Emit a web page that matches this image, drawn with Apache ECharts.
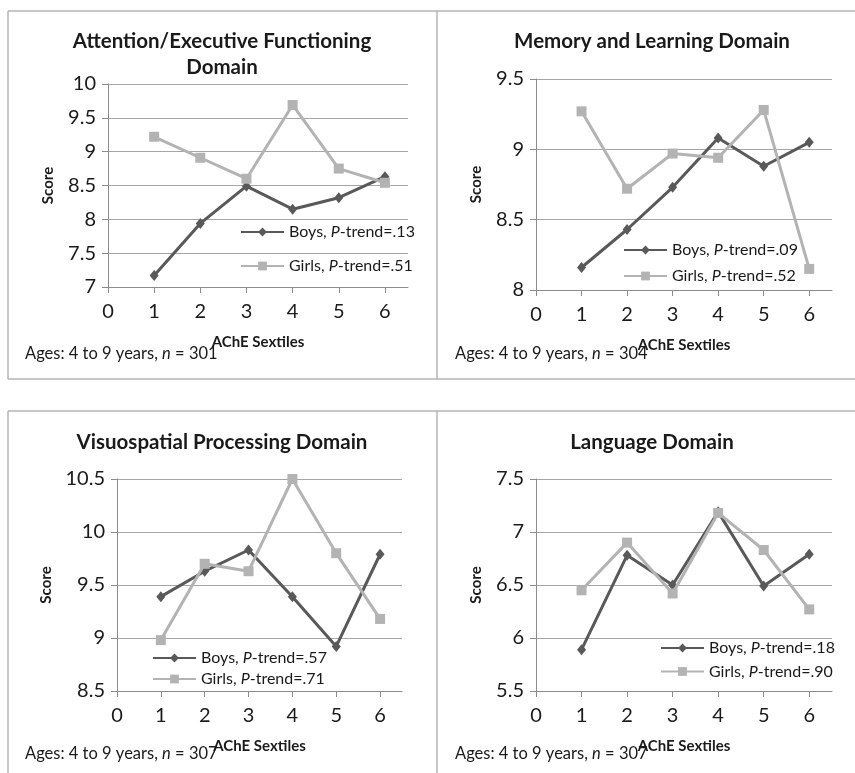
<!DOCTYPE html>
<html><head><meta charset="utf-8">
<script src="https://cdn.jsdelivr.net/npm/echarts@6/dist/echarts.min.js"></script>
<style>html,body{margin:0;padding:0;background:#fff}#c{width:855px;height:773px}</style>
</head><body><div id="c"></div>
<script>
// ---- data ----
const sextiles = [1, 2, 3, 4, 5, 6];
const xTickLabels = [0, 1, 2, 3, 4, 5, 6];
const titles = ['Attention/Executive Functioning\nDomain', 'Memory and Learning Domain', 'Visuospatial Processing Domain', 'Language Domain'];
const boysAttention = [7.17, 7.94, 8.49, 8.15, 8.32, 8.63];
const girlsAttention = [9.22, 8.91, 8.60, 9.69, 8.75, 8.54];
const boysMemory = [8.16, 8.43, 8.73, 9.08, 8.88, 9.05];
const girlsMemory = [9.27, 8.72, 8.97, 8.94, 9.28, 8.15];
const boysVisuo = [9.39, 9.63, 9.83, 9.39, 8.92, 9.79];
const girlsVisuo = [8.98, 9.70, 9.63, 10.50, 9.80, 9.18];
const boysLanguage = [5.89, 6.78, 6.50, 7.19, 6.49, 6.79];
const girlsLanguage = [6.45, 6.90, 6.42, 7.18, 6.83, 6.27];
const boysNames = ['Boys, P-trend=.13', 'Boys, P-trend=.09', 'Boys, P-trend=.57', 'Boys, P-trend=.18'];
const girlsNames = ['Girls, P-trend=.51', 'Girls, P-trend=.52', 'Girls, P-trend=.71', 'Girls, P-trend=.90'];
const yMins = [7, 8, 8.5, 5.5];
const yMaxs = [10, 9.5, 10.5, 7.5];
const sampleSizes = [301, 304, 307, 307];

// ---- layout ----
const FONT = 'Lato, "Open Sans", sans-serif';
const TXT = '#1a1a1a';
const grids = [
  {left: 108, top: 84, width: 300, height: 203},
  {left: 536, top: 79, width: 296, height: 211},
  {left: 117, top: 479, width: 285, height: 212},
  {left: 536, top: 479, width: 296, height: 212}
];
const yNameGaps = [52, 52, 63, 52];
const legendPos = [
  {left: 240, top: 222, gap: 14},
  {left: 623, top: 240, gap: 6},
  {left: 152, top: 648, gap: 1},
  {left: 660, top: 638, gap: 3.5}
];
const titlePos = [[222, 54], [652, 41], [222, 442], [652, 442]];
const notePos = [[25, 354], [455, 354], [25, 754], [455, 754]];
const boysData = [boysAttention, boysMemory, boysVisuo, boysLanguage];
const girlsData = [girlsAttention, girlsMemory, girlsVisuo, girlsLanguage];

const xAxis = [], yAxis = [], series = [], legend = [], graphic = [];
for (let i = 0; i < 4; i++) {
  xAxis.push({
    type: 'value', gridIndex: i, min: 0, max: 6.5, interval: 1,
    name: 'AChE Sextiles', nameLocation: 'middle', nameGap: 48,
    nameTextStyle: {fontFamily: FONT, fontWeight: 'bold', fontSize: 15, color: TXT},
    axisLine: {show: true, onZero: false, lineStyle: {color: '#8c8c8c', width: 1}},
    axisTick: {show: true, length: 6, lineStyle: {color: '#8c8c8c'}, customValues: xTickLabels},
    axisLabel: {fontFamily: FONT, fontSize: 20, color: TXT, margin: 15, customValues: xTickLabels},
    splitLine: {show: false}
  });
  yAxis.push({
    type: 'value', gridIndex: i, min: yMins[i], max: yMaxs[i], interval: 0.5,
    name: 'Score', nameLocation: 'middle', nameGap: yNameGaps[i], nameRotate: 90,
    nameTextStyle: {fontFamily: FONT, fontWeight: 'bold', fontSize: 15, color: TXT},
    axisLine: {show: true, lineStyle: {color: '#8c8c8c', width: 1}},
    axisTick: {show: true, length: 6, lineStyle: {color: '#8c8c8c'}},
    axisLabel: {fontFamily: FONT, fontSize: 20, color: TXT, margin: 12},
    splitLine: {show: true, lineStyle: {color: '#a6a6a6', width: 1}}
  });
  series.push({
    name: boysNames[i], type: 'line', xAxisIndex: i, yAxisIndex: i,
    data: sextiles.map((x, k) => [x, boysData[i][k]]),
    symbol: 'diamond', symbolSize: [9, 11], showAllSymbol: true,
    lineStyle: {color: '#595959', width: 3}, itemStyle: {color: '#595959'},
    emphasis: {disabled: true}, animation: false, z: 3
  });
  series.push({
    name: girlsNames[i], type: 'line', xAxisIndex: i, yAxisIndex: i,
    data: sextiles.map((x, k) => [x, girlsData[i][k]]),
    symbol: 'rect', symbolSize: 10, showAllSymbol: true,
    lineStyle: {color: '#b3b3b3', width: 3}, itemStyle: {color: '#b3b3b3'},
    emphasis: {disabled: true}, animation: false, z: 4
  });
  legend.push({
    data: [boysNames[i], girlsNames[i]], orient: 'vertical',
    left: legendPos[i].left, top: legendPos[i].top, itemGap: legendPos[i].gap,
    itemWidth: 43, itemHeight: 11, padding: 0, selectedMode: false,
    formatter: function (name) { const p = name.split('P-trend'); return p[0] + '{i|P}-trend' + p[1]; },
    textStyle: {fontFamily: FONT, fontSize: 16, color: TXT, lineHeight: 20,
      rich: {i: {fontFamily: FONT, fontSize: 16, fontStyle: 'italic', color: TXT, lineHeight: 20}}}
  });
  graphic.push({
    type: 'text', x: titlePos[i][0], y: titlePos[i][1],
    style: {text: titles[i], font: 'bold 20.5px ' + FONT, fill: TXT, textAlign: 'center', textVerticalAlign: 'middle', lineHeight: 26}
  });
  graphic.push({
    type: 'text', x: notePos[i][0], y: notePos[i][1],
    style: {text: 'Ages: 4 to 9 years, {i|n} = ' + sampleSizes[i], font: '16.5px ' + FONT, fill: TXT,
      textVerticalAlign: 'middle',
      rich: {i: {fontStyle: 'italic', fontFamily: FONT, fontSize: 16.5, fill: TXT}}}
  });
}
const bc = {stroke: '#b4b4b4', lineWidth: 1.5};
const lines = [
  [8, 11, 855, 11], [8, 379, 855, 379], [8, 11, 8, 379], [437, 11, 437, 379],
  [8, 411, 855, 411], [8, 411, 8, 773], [437, 411, 437, 773]
];
lines.forEach(l => graphic.push({type: 'line', shape: {x1: l[0], y1: l[1], x2: l[2], y2: l[3]}, style: bc, silent: true}));

const chart = echarts.init(document.getElementById('c'), null, {renderer: 'canvas'});
chart.setOption({
  animation: false, backgroundColor: '#fff',
  grid: grids, xAxis: xAxis, yAxis: yAxis, series: series, legend: legend, graphic: graphic
});
</script></body></html>
